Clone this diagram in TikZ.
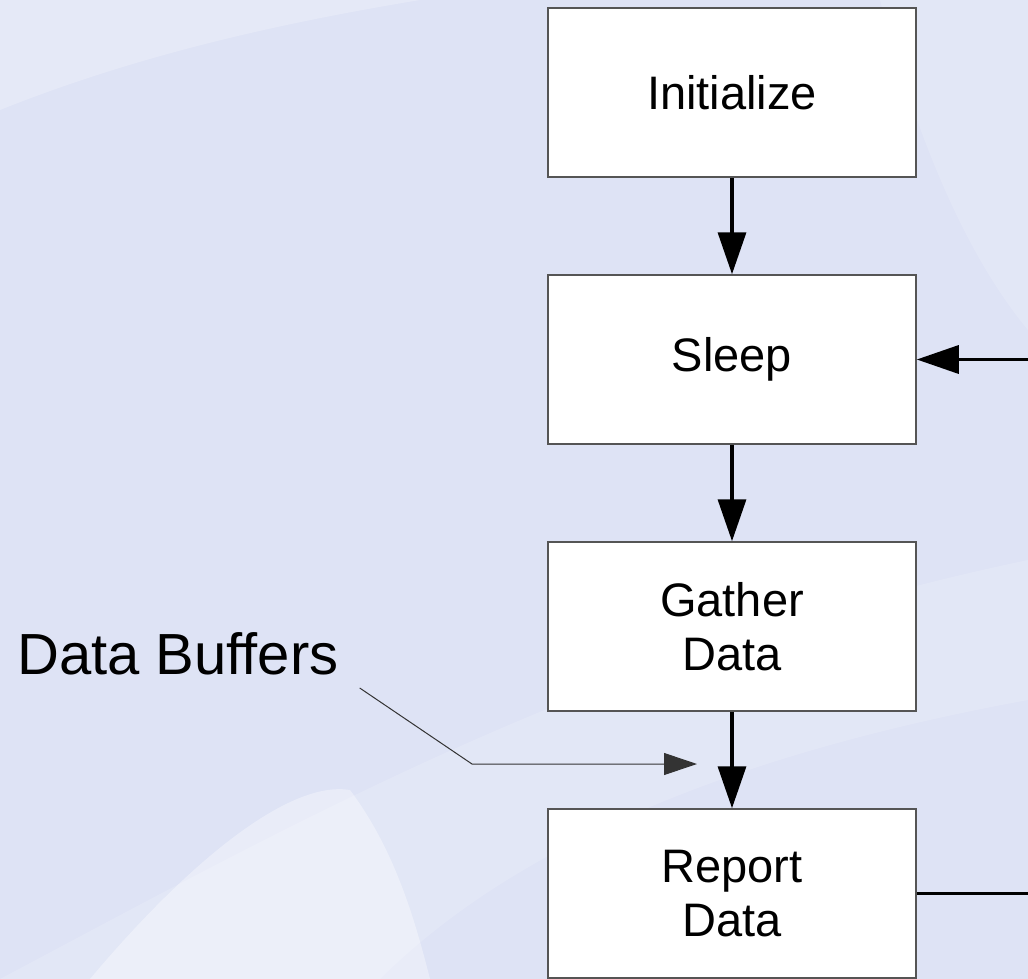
\documentclass[tikz,border=0pt]{standalone}
\usepackage{fontspec}
\setmainfont{Liberation Sans}
\usepackage{xcolor}
\usepackage{tikz}
\usetikzlibrary{arrows.meta, positioning}
\definecolor{bgblue}{RGB}{222,227,245}
\definecolor{edgegray}{RGB}{85,85,85}

\begin{document}
\begin{tikzpicture}[
  x=1pt, y=-1pt,
  node distance=96.5pt,
  box/.style={draw=edgegray, line width=1.5pt, fill=white, minimum width=368pt, minimum height=169pt, inner sep=0pt, align=center, font=\fontsize{47}{54}\selectfont},
  arrow/.style={-{Triangle[length=42pt,width=28pt]}, line width=3.5pt},
  leader/.style={-{Triangle[length=33pt,width=22pt]}, line width=1pt, draw=black!80}
]

% Background
\fill[bgblue] (0,0) rectangle (1028,979);
\fill[white, opacity=0.22] (0,110) .. controls (150,50) and (300,20) .. (420,0) -- (0,0) -- cycle;
\fill[white, opacity=0.15] (0,979) .. controls (300,820) and (600,650) .. (1028,560) -- (1028,700) .. controls (700,760) and (500,860) .. (380,979) -- cycle;
\fill[white, opacity=0.35] (90,979) .. controls (190,860) and (290,780) .. (350,790) .. controls (395,850) and (415,920) .. (430,979) -- cycle;
\fill[white, opacity=0.15] (880,0) .. controls (920,150) and (970,260) .. (1028,330) -- (1028,0) -- cycle;
\useasboundingbox (0,0) rectangle (1028,979);

% Nodes
\node[box] (init) at (732,92.5) {Initialize};
\node[box, below=of init] (sleep) {Sleep};
\node[box, below=of sleep] (gather) {Gather\\Data};
\node[box, below=of gather] (report) {Report\\Data};
\node[anchor=base west, inner sep=0pt, font=\fontsize{58}{70}\selectfont] (buf) at (17,674) {Data Buffers};
\coordinate (loopin) at (1028,359.5);
\coordinate (loopout) at (1028,893.5);
\coordinate (bend) at (472,764);
\coordinate (buftip) at (697,764);

% Pointers
\draw[arrow] (init) -- (sleep);
\draw[arrow] (sleep) -- (gather);
\draw[arrow] (gather) -- (report);
\draw[arrow] (loopin) -- (sleep.east);
\draw[line width=3.5pt] (report.east) -- (loopout);
\draw[leader] ([shift={(21,14)}]buf.base east) -- (bend) -- (buftip);
\end{tikzpicture}
\end{document}
